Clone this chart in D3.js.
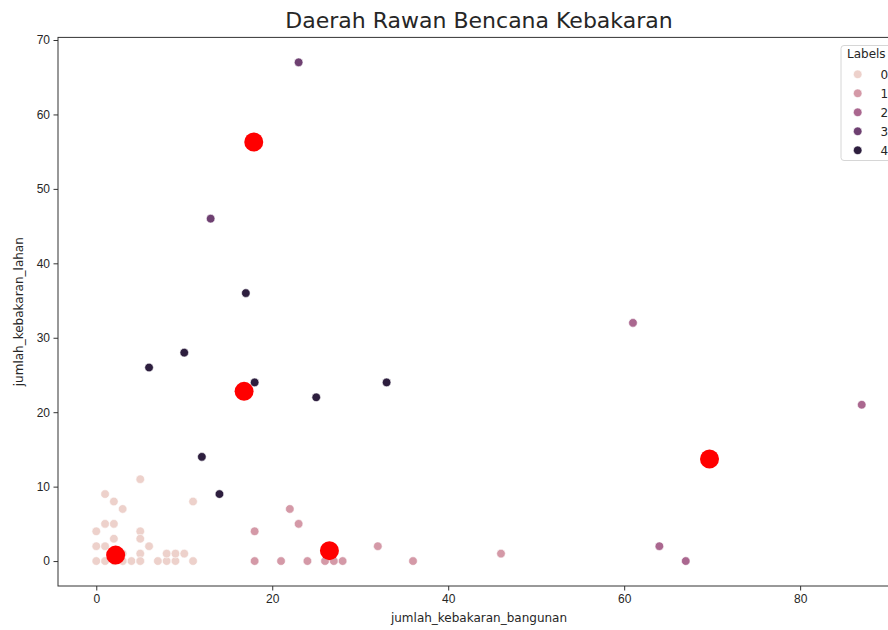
<!DOCTYPE html>
<html>
<head>
<meta charset="utf-8">
<script src="https://cdn.jsdelivr.net/npm/d3@7"></script>
<style>
  body { margin: 0; background: #fff; }
  svg { display: block; font-family: "DejaVu Sans", sans-serif; }
  .axis path, .axis line { stroke: #333; }
  .axis text { fill: #262626; font-size: 12px; }
</style>
</head>
<body>
<svg class="chart"></svg>
<script>
// points (jumlah_kebakaran_bangunan, jumlah_kebakaran_lahan, label)
var bangunan = [0, 1, 2, 3, 4, 5, 7, 8, 9, 11, 0, 1, 5, 6, 0, 5, 2, 5, 1, 2, 3, 2, 5, 8, 9, 10, 1, 2, 3, 11, 5, 2, 3,
                18, 21, 24, 26, 27, 28, 18, 22, 23, 32, 36, 46,
                61, 87, 64, 67,
                23, 13,
                17, 10, 6, 18, 33, 25, 12, 14];
var lahan    = [0, 0, 0, 0, 0, 0, 0, 0, 0, 0, 2, 2, 1, 2, 4, 4, 3, 3, 5, 5, 7, 8, 11, 1, 1, 1, 9, 1, 1, 8, 0, 0, 0,
                0, 0, 0, 0, 0, 0, 4, 7, 5, 2, 0, 1,
                32, 21, 2, 0,
                67, 46,
                36, 28, 26, 24, 24, 22, 14, 9];
var labels   = [0, 0, 0, 0, 0, 0, 0, 0, 0, 0, 0, 0, 0, 0, 0, 0, 0, 0, 0, 0, 0, 0, 0, 0, 0, 0, 0, 0, 0, 0, 0, 0, 0,
                1, 1, 1, 1, 1, 1, 1, 1, 1, 1, 1, 1,
                2, 2, 2, 2,
                3, 3,
                4, 4, 4, 4, 4, 4, 4, 4];

// cluster centres (red)
var centroidX = [2.2, 26.5, 69.7, 17.9, 16.8];
var centroidY = [0.8, 1.4, 13.7, 56.3, 22.8];

var legendLabels = [0, 1, 2, 3, 4];
var xTicks = [0, 20, 40, 60, 80];
var yTicks = [0, 10, 20, 30, 40, 50, 60, 70];

// seaborn "ch:" palette sampled at 0, .25, .5, .75, 1
var palette = ['#edd1cb', '#d499a7', '#aa678f', '#6e4071', '#2d1e3e'];

var svgWidth = 888, svgHeight = 630;
var margin = { top: 37.4, left: 58, right: 900, bottom: 586 };

var svg = d3.select('.chart')
    .attr('width', svgWidth)
    .attr('height', svgHeight);

var x = d3.scaleLinear().domain([-4.35, 91.35]).range([margin.left, margin.right]);
var y = d3.scaleLinear().domain([-3.35, 70.35]).range([margin.bottom, margin.top]);
var color = d3.scaleOrdinal().domain(legendLabels).range(palette);

var data = bangunan.map(function (d, i) {
    return { x: d, y: lahan[i], label: labels[i] };
});
var centroids = centroidX.map(function (d, i) {
    return { x: d, y: centroidY[i] };
});

// axes
svg.append('g')
    .attr('class', 'x axis')
    .attr('transform', 'translate(0,' + margin.bottom + ')')
    .call(d3.axisBottom(x).tickValues(xTicks).tickSize(4.5).tickPadding(3.5).tickSizeOuter(0))
    .select('.domain').remove();

svg.append('g')
    .attr('class', 'y axis')
    .attr('transform', 'translate(' + margin.left + ',0)')
    .call(d3.axisLeft(y).tickValues(yTicks).tickSize(4.5).tickPadding(3.5).tickSizeOuter(0))
    .select('.domain').remove();

// spines
svg.append('rect')
    .attr('x', margin.left)
    .attr('y', margin.top)
    .attr('width', margin.right - margin.left)
    .attr('height', margin.bottom - margin.top)
    .attr('fill', 'none')
    .attr('stroke', '#333')
    .attr('stroke-width', 1);

// scatter points
svg.append('g')
    .selectAll('.dot')
    .data(data)
    .enter()
    .append('circle')
    .attr('class', 'dot')
    .attr('cx', function (d) { return x(d.x); })
    .attr('cy', function (d) { return y(d.y); })
    .attr('r', 4.3)
    .attr('fill', function (d) { return color(d.label); })
    .attr('stroke', '#fff')
    .attr('stroke-width', 0.6);

// centroids
svg.append('g')
    .selectAll('.centroid')
    .data(centroids)
    .enter()
    .append('circle')
    .attr('class', 'centroid')
    .attr('cx', function (d) { return x(d.x); })
    .attr('cy', function (d) { return y(d.y); })
    .attr('r', 9.5)
    .attr('fill', '#ff0000');

// title and axis labels
svg.append('text')
    .attr('x', (margin.left + margin.right) / 2)
    .attr('y', 28)
    .attr('text-anchor', 'middle')
    .style('font-size', '22px')
    .style('fill', '#262626')
    .text('Daerah Rawan Bencana Kebakaran');

svg.append('text')
    .attr('x', (margin.left + margin.right) / 2)
    .attr('y', 622)
    .attr('text-anchor', 'middle')
    .style('font-size', '12px')
    .style('fill', '#262626')
    .text('jumlah_kebakaran_bangunan');

svg.append('text')
    .attr('transform', 'translate(23,' + (margin.top + margin.bottom) / 2 + ') rotate(-90)')
    .attr('text-anchor', 'middle')
    .style('font-size', '12px')
    .style('fill', '#262626')
    .text('jumlah_kebakaran_lahan');

// legend
var legend = svg.append('g').attr('transform', 'translate(841,45.5)');
legend.append('rect')
    .attr('width', 54)
    .attr('height', 115)
    .attr('rx', 3)
    .attr('fill', '#fff')
    .attr('fill-opacity', 0.8)
    .attr('stroke', '#d6d6d6');
legend.append('text')
    .attr('x', 6)
    .attr('y', 12)
    .style('font-size', '12px')
    .style('fill', '#262626')
    .text('Labels');
var items = legend.selectAll('.item')
    .data(legendLabels)
    .enter()
    .append('g')
    .attr('class', 'item')
    .attr('transform', function (d, i) { return 'translate(0,' + (28.8 + i * 19) + ')'; });
items.append('circle')
    .attr('cx', 16.7)
    .attr('r', 4.3)
    .attr('fill', function (d) { return color(d); })
    .attr('stroke', '#fff')
    .attr('stroke-width', 0.6);
items.append('text')
    .attr('x', 39.5)
    .attr('y', 4.3)
    .style('font-size', '12px')
    .style('fill', '#262626')
    .text(function (d) { return d; });
</script>
</body>
</html>
